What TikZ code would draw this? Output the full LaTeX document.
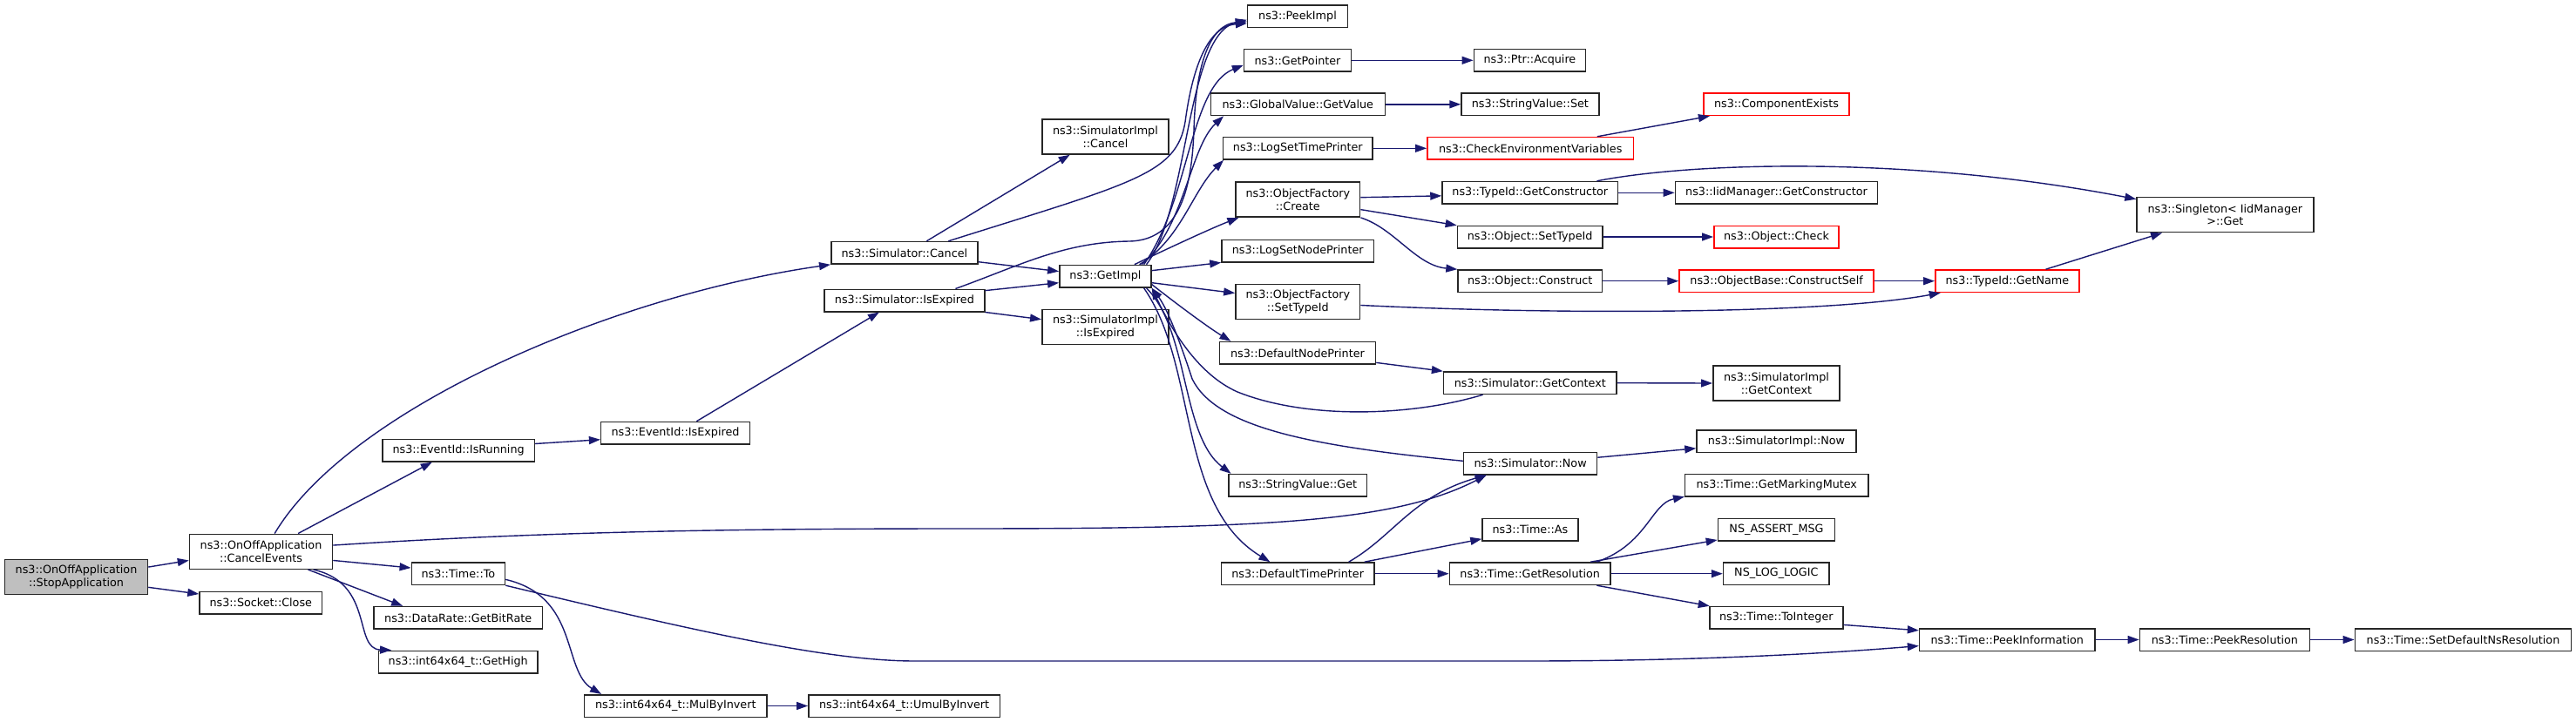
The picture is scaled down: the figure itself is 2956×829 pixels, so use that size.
\documentclass[tikz,border=0pt]{standalone}
\usepackage{fontspec}
\setmainfont{DejaVu Sans}
\usepackage{tikz}
\usetikzlibrary{arrows.meta}
\definecolor{edgeblue}{HTML}{191970}

\begin{document}
\begin{tikzpicture}[
    x=1bp, y=-1bp,
    fn/.style={rectangle, draw=black!85, line width=1.5bp, fill=white, minimum height=25.5bp, inner sep=0pt, align=center, font=\fontsize{12.8}{14.7}\selectfont},
    fntwo/.style={fn, minimum height=40bp},
    fnred/.style={fn, draw=red},
    fnroot/.style={fntwo, fill=gray!50},
    callarrow/.style={draw=edgeblue, line width=1.4bp, -{Triangle[length=13bp, width=9bp]}}
]

    \path [use as bounding box, fill=white] (0,0) rectangle (2956,829);

    % Caller and first level
    \node (stopapp) at (87.5,662.7) [fnroot, minimum width=164bp] {ns3::OnOffApplication\\::StopApplication};
    \node (cancelevents) at (299.5,633.3) [fntwo, minimum width=164bp] {ns3::OnOffApplication\\::CancelEvents};
    \node (sockclose) at (299.3,692) [fn, minimum width=140.6bp] {ns3::Socket::Close};

    % Second and third level
    \node (isrunning) at (526.1,517.2) [fn, minimum width=174.6bp] {ns3::EventId::IsRunning};
    \node (timeto) at (525.9,658.7) [fn, minimum width=107.2bp] {ns3::Time::To};
    \node (getbitrate) at (525.7,709.3) [fn, minimum width=193.3bp] {ns3::DataRate::GetBitRate};
    \node (gethigh) at (525.7,760) [fn, minimum width=182.6bp] {ns3::int64x64\_t::GetHigh};
    \node (eventexpired) at (775,497.2) [fn, minimum width=170.7bp] {ns3::EventId::IsExpired};
    \node (mulbyinv) at (775.3,810.5) [fn, minimum width=209.4bp] {ns3::int64x64\_t::MulByInvert};

    % Simulator column
    \node (simcancel) at (1037.9,290.3) [fn, minimum width=168.3bp] {ns3::Simulator::Cancel};
    \node (simexpired) at (1037.9,345) [fn, minimum width=183.7bp] {ns3::Simulator::IsExpired};
    \node (umulbyinv) at (1037.6,810.5) [fn, minimum width=219.5bp] {ns3::int64x64\_t::UmulByInvert};
    \node (implcancel) at (1268.4,157) [fntwo, minimum width=145.3bp] {ns3::SimulatorImpl\\::Cancel};
    \node (getimpl) at (1268.4,317.2) [fn, minimum width=105.2bp] {ns3::GetImpl};
    \node (implexpired) at (1268.4,375.7) [fntwo, minimum width=145.3bp] {ns3::SimulatorImpl\\::IsExpired};

    % GetImpl callees
    \node (peekimpl) at (1489,18.7) [fn, minimum width=114.8bp] {ns3::PeekImpl};
    \node (getpointer) at (1489,69.3) [fn, minimum width=122.9bp] {ns3::GetPointer};
    \node (getvalue) at (1489.3,119.8) [fn, minimum width=200bp] {ns3::GlobalValue::GetValue};
    \node (logsettime) at (1489.3,170.3) [fn, minimum width=171.4bp] {ns3::LogSetTimePrinter};
    \node (ofcreate) at (1489.3,229.2) [fntwo, minimum width=142.8bp] {ns3::ObjectFactory\\::Create};
    \node (logsetnode) at (1489.2,288) [fn, minimum width=174.5bp] {ns3::LogSetNodePrinter};
    \node (ofsettypeid) at (1489.3,346.7) [fntwo, minimum width=142.8bp] {ns3::ObjectFactory\\::SetTypeId};
    \node (defnodeprinter) at (1489,405.3) [fn, minimum width=179bp] {ns3::DefaultNodePrinter};
    \node (strget) at (1489.2,557.3) [fn, minimum width=158.4bp] {ns3::StringValue::Get};
    \node (deftimeprinter) at (1489.2,658.7) [fn, minimum width=175.5bp] {ns3::DefaultTimePrinter};

    % Next column
    \node (ptracquire) at (1755.4,69.3) [fn, minimum width=128.1bp] {ns3::Ptr::Acquire};
    \node (strset) at (1755.9,119.8) [fn, minimum width=157.7bp] {ns3::StringValue::Set};
    \node (checkenv) at (1756.2,170.3) [fnred, minimum width=236.7bp] {ns3::CheckEnvironmentVariables};
    \node (getconstructor) at (1755.8,221.3) [fn, minimum width=201.6bp] {ns3::TypeId::GetConstructor};
    \node (objsettypeid) at (1755.6,272) [fn, minimum width=166.4bp] {ns3::Object::SetTypeId};
    \node (objconstruct) at (1755.7,322.7) [fn, minimum width=165.3bp] {ns3::Object::Construct};
    \node (simcontext) at (1755.8,439.7) [fn, minimum width=198.4bp] {ns3::Simulator::GetContext};
    \node (simnow) at (1756.1,532) [fn, minimum width=153bp] {ns3::Simulator::Now};
    \node (timeas) at (1755.9,608) [fn, minimum width=109.7bp] {ns3::Time::As};
    \node (getresolution) at (1755.7,658.7) [fn, minimum width=184.7bp] {ns3::Time::GetResolution};

    \node (compexists) at (2038.5,119.8) [fnred, minimum width=167bp] {ns3::ComponentExists};
    \node (iidgetconstructor) at (2038.5,221.3) [fn, minimum width=232.2bp] {ns3::IidManager::GetConstructor};
    \node (objcheck) at (2038.5,272) [fnred, minimum width=143.4bp] {ns3::Object::Check};
    \node (constructself) at (2038.6,322.7) [fnred, minimum width=223.2bp] {ns3::ObjectBase::ConstructSelf};
    \node (implcontext) at (2038.5,440) [fntwo, minimum width=145.4bp] {ns3::SimulatorImpl\\::GetContext};
    \node (implnow) at (2038.5,506.7) [fn, minimum width=183bp] {ns3::SimulatorImpl::Now};
    \node (markingmutex) at (2038.8,557.3) [fn, minimum width=210.2bp] {ns3::Time::GetMarkingMutex};
    \node (assertmsg) at (2038.5,608) [fn, minimum width=134.2bp] {NS\_ASSERT\_MSG};
    \node (loglogic) at (2038.3,658.7) [fn, minimum width=121.5bp] {NS\_LOG\_LOGIC};
    \node (tointeger) at (2038.3,709.3) [fn, minimum width=153.1bp] {ns3::Time::ToInteger};

    % Right end
    \node (gettypename) at (2303.4,322.7) [fnred, minimum width=165.3bp] {ns3::TypeId::GetName};
    \node (peekinfo) at (2303.3,734.5) [fn, minimum width=201.4bp] {ns3::Time::PeekInformation};
    \node (singletonget) at (2553.4,246.7) [fntwo, minimum width=202.7bp] {ns3::Singleton< IidManager\\>::Get};
    \node (peekresolution) at (2552.9,734.5) [fn, minimum width=195bp] {ns3::Time::PeekResolution};
    \node (setdefaultns) at (2826.5,734.5) [fn, minimum width=248.4bp] {ns3::Time::SetDefaultNsResolution};

    % Calls from the left part
    \draw [callarrow] (stopapp.8) -- (cancelevents.187);
    \draw [callarrow] (stopapp.-8) -- (sockclose.172);
    \draw [callarrow] (cancelevents.53) .. controls (400,470) and (700,340) .. (simcancel.south west);
    \draw [callarrow] (cancelevents.26) -- (isrunning.204);
    \draw [callarrow] (cancelevents.5) .. controls (600,612) and (800,607) .. (1100,607) .. controls (1450,607) and (1600,600) .. (simnow.195);
    \draw [callarrow] (cancelevents.-7) -- (timeto.173);
    \draw [callarrow] (cancelevents.-21) -- (getbitrate.168);
    \draw [callarrow] (cancelevents.-19) .. controls (430,670) and (405,745) .. (gethigh.170);
    \draw [callarrow] (timeto.-7) .. controls (665,685) and (645,770) .. (mulbyinv.171);
    \draw [callarrow] (timeto.south east) .. controls (800,725) and (950,759) .. (1050,759) -- (1750,759) .. controls (1950,759) and (2100,750) .. (peekinfo.184);
    \draw [callarrow] (isrunning.5) -- (eventexpired.185);
    \draw [callarrow] (eventexpired.29) -- (simexpired.205);
    \draw [callarrow] (mulbyinv.east) -- (umulbyinv.west);

    % Simulator calls
    \draw [callarrow] (simcancel.28) -- (implcancel.207);
    \draw [callarrow] (simcancel.15) .. controls (1300,210) and (1350,200) .. (1360,140) .. controls (1368,80) and (1385,30) .. (peekimpl.188);
    \draw [callarrow] (simexpired.13) .. controls (1170,305) and (1220,278) .. (1296,277) .. controls (1360,276) and (1368,200) .. (1370,150) .. controls (1372,70) and (1390,28) .. (peekimpl.186);
    \draw [callarrow] (simcancel.-7) -- (getimpl.174);
    \draw [callarrow] (simexpired.7) -- (getimpl.188);
    \draw [callarrow] (simexpired.south east) -- (implexpired.173);

    % GetImpl fan-out
    \draw [callarrow] (getimpl.16) .. controls (1365,240) and (1360,40) .. (peekimpl.184);
    \draw [callarrow] (getimpl.17) .. controls (1365,230) and (1365,100) .. (getpointer.185);
    \draw [callarrow] (getimpl.18) .. controls (1360,260) and (1365,170) .. (getvalue.189);
    \draw [callarrow] (getimpl.19) .. controls (1355,275) and (1368,220) .. (logsettime.189);
    \draw [callarrow] (getimpl.22) .. controls (1330,290) and (1390,262) .. (ofcreate.197);
    \draw [callarrow] (getimpl.7) -- (logsetnode.south west);
    \draw [callarrow] (getimpl.-8) -- (ofsettypeid.172);
    \draw [callarrow] (getimpl.-10) .. controls (1345,345) and (1385,375) .. (defnodeprinter.170);
    \draw [callarrow] (getimpl.-16) .. controls (1365,380) and (1355,500) .. (strget.170);
    \draw [callarrow] (getimpl.-17) .. controls (1375,420) and (1350,580) .. (deftimeprinter.157);
    \draw [callarrow] (simcontext.194) .. controls (1620,478) and (1500,482) .. (1420,450) .. controls (1375,430) and (1345,380) .. (getimpl.south east);
    \draw [callarrow] (simnow.178) .. controls (1500,512) and (1395,490) .. (1368,435) .. controls (1355,395) and (1340,355) .. (getimpl.south east);

    % Printers and time
    \draw [callarrow] (deftimeprinter.13) .. controls (1600,615) and (1620,570) .. (simnow.195);
    \draw [callarrow] (deftimeprinter.10) -- (timeas.191);
    \draw [callarrow] (deftimeprinter.east) -- (getresolution.west);
    \draw [callarrow] (getresolution.10) .. controls (1890,625) and (1895,578) .. (markingmutex.187);
    \draw [callarrow] (getresolution.11) -- (assertmsg.190);
    \draw [callarrow] (getresolution.east) -- (loglogic.west);
    \draw [callarrow] (getresolution.-10) -- (tointeger.170);
    \draw [callarrow] (tointeger.-6) -- (peekinfo.174);
    \draw [callarrow] (peekinfo.east) -- (peekresolution.west);
    \draw [callarrow] (peekresolution.east) -- (setdefaultns.west);
    \draw [callarrow] (simnow.5) -- (implnow.185);
    \draw [callarrow] (simcontext.east) -- (implcontext.west);
    \draw [callarrow] (defnodeprinter.-7) -- (simcontext.north west);

    % Upper right calls
    \draw [callarrow] (getpointer.east) -- (ptracquire.west);
    \draw [callarrow] (getvalue.east) -- (strset.west);
    \draw [callarrow] (logsettime.east) -- (checkenv.west);
    \draw [callarrow] (checkenv.10) -- (compexists.190);
    \draw [callarrow] (ofcreate.2) -- (getconstructor.182);
    \draw [callarrow] (ofcreate.-9) -- (objsettypeid.171);
    \draw [callarrow] (ofcreate.south east) .. controls (1600,262) and (1625,305) .. (objconstruct.north west);
    \draw [callarrow] (getconstructor.east) -- (iidgetconstructor.west);
    \draw [callarrow] (getconstructor.10) .. controls (1950,185) and (2200,180) .. (singletonget.170);
    \draw [callarrow] (objsettypeid.east) -- (objcheck.west);
    \draw [callarrow] (objconstruct.east) -- (constructself.west);
    \draw [callarrow] (constructself.east) -- (gettypename.west);
    \draw [callarrow] (ofsettypeid.-3) .. controls (1800,362) and (2100,360) .. (gettypename.190);
    \draw [callarrow] (gettypename.17) -- (singletonget.196);

\end{tikzpicture}
\end{document}
